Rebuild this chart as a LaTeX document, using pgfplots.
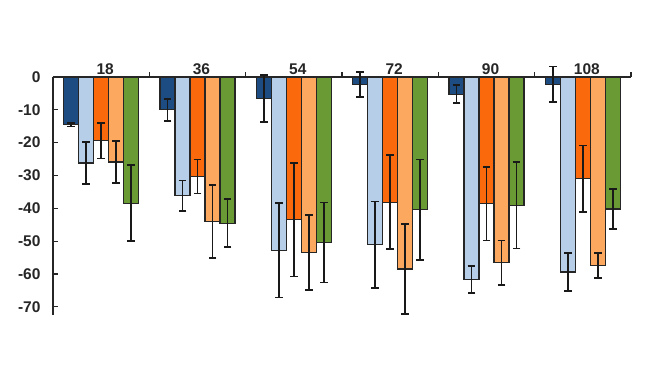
\documentclass[border=0pt]{standalone}
\usepackage{pgfplots}
\pgfplotsset{compat=1.18}
\usepackage{fontspec}
\setmainfont{Liberation Sans}
\definecolor{cA}{RGB}{28,76,130}
\definecolor{cB}{RGB}{182,206,232}
\definecolor{cC}{RGB}{250,106,12}
\definecolor{cD}{RGB}{252,168,94}
\definecolor{cE}{RGB}{106,154,52}
\begin{document}
\begin{tikzpicture}
\path[use as bounding box] (-53pt,-51pt) rectangle (597pt,315pt);
\begin{axis}[
  at={(0pt,0pt)}, anchor=south west,
  scale only axis, width=578pt, height=238pt,
  xmin=-0.5, xmax=5.5, ymin=-72.5, ymax=0,
  ybar=0pt, bar width=15pt,
  axis x line=top, axis y line=left,
  axis line style={-, line width=1.3pt, black!85},
  tick align=inside,
  xtick={0,...,5},
  xticklabels={18,36,54,72,90,108},
  every major x tick/.style={draw=none},
  minor xtick={0.5,1.5,...,5.5},
  minor tick length=-5pt,
  every minor x tick/.style={line width=1.1pt, black!85},
  major tick length=5pt,
  ytick={0,-10,-20,-30,-40,-50,-60,-70},
  yticklabels={0,-10,-20,-30,-40,-50,-60,-70},
  every major y tick/.style={line width=1.1pt, black!85},
  tick label style={font=\fontsize{15.5}{18}\selectfont\bfseries, text=black!85},
  xticklabel style={xshift=4pt, yshift=-1pt},
  yticklabel style={xshift=-9pt},
  clip=false,
  every axis plot/.append style={draw=black!85, line width=1.1pt,
    error bars/y dir=both, error bars/y explicit,
    error bars/error bar style={line width=1.7pt, black!90},
    error bars/error mark options={rotate=90, mark size=3.8pt, line width=1.7pt, black!90}},
]
\addplot[fill=cA] coordinates {
 (0,-14.6) +- (0,0.5)
 (1,-10.0) +- (0,3.4)
 (2,-6.5) +- (0,7.2)
 (3,-2.2) +- (0,3.8)
 (4,-5.2) +- (0,2.7)
 (5,-2.2) +- (0,5.4)
};
\addplot[fill=cB] coordinates {
 (0,-26.2) +- (0,6.5)
 (1,-36.2) +- (0,4.7)
 (2,-52.8) +- (0,14.4)
 (3,-51.1) +- (0,13.2)
 (4,-61.7) +- (0,4.2)
 (5,-59.4) +- (0,5.8)
};
\addplot[fill=cC] coordinates {
 (0,-19.4) +- (0,5.4)
 (1,-30.3) +- (0,5.2)
 (2,-43.5) +- (0,17.3)
 (3,-38.1) +- (0,14.4)
 (4,-38.6) +- (0,11.2)
 (5,-31.0) +- (0,10.1)
};
\addplot[fill=cD] coordinates {
 (0,-25.9) +- (0,6.3)
 (1,-44.0) +- (0,11.1)
 (2,-53.4) +- (0,11.4)
 (3,-58.5) +- (0,13.7)
 (4,-56.6) +- (0,6.8)
 (5,-57.4) +- (0,3.8)
};
\addplot[fill=cE] coordinates {
 (0,-38.4) +- (0,11.5)
 (1,-44.5) +- (0,7.3)
 (2,-50.4) +- (0,12.2)
 (3,-40.4) +- (0,15.3)
 (4,-39.1) +- (0,13.1)
 (5,-40.2) +- (0,6.1)
};
\end{axis}
\end{tikzpicture}
\end{document}
